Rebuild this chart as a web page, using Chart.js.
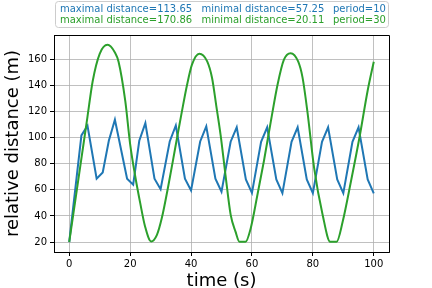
<!DOCTYPE html>
<html>
<head>
<meta charset="utf-8">
<script src="https://cdn.jsdelivr.net/npm/chart.js@4/dist/chart.umd.min.js"></script>
<style>
  html, body { margin: 0; padding: 0; background: #fff; }
  #wrap { width: 432px; height: 288px; }
</style>
</head>
<body>
<div id="wrap"><canvas id="myChart" width="432" height="288"></canvas></div>
<script>
// period 10 run (blue)
const blueTime = [0, 4, 6, 9, 11, 13, 15, 19, 21, 23, 25, 28, 30, 33, 35, 38, 40, 43, 45, 48, 50,
                  53, 55, 58, 60, 63, 65, 68, 70, 73, 75, 78, 80, 83, 85, 88, 90, 93, 95, 98, 100];
const blueDist = [20, 101.6, 109, 68.5, 73.3, 97.5, 113.65, 68.5, 64, 97.5, 111, 68.5, 60.5, 97, 109.2, 68.5, 59.5, 97, 108.5, 68.5, 58.5,
                  96.8, 107.8, 68, 57.7, 96.7, 107.8, 68, 57.5, 96.7, 107.8, 68, 57.5, 96.7, 107.8, 68, 57.5, 96.7, 107.8, 68, 57.25];

// period 30 run (green)
const greenTime = [0, 2, 4, 6, 7.7, 10, 12.6, 15, 16.2, 18.4, 20, 21.7, 23.3, 24.9, 26.9, 28.8, 30.4, 32.6, 34.8, 37,
                   38.7, 40.3, 42.7, 45.3, 46.9, 48.3, 49.7, 51.3, 53, 54.6, 55.9, 57.9, 59.6, 61.8, 63.9, 66.2, 68.4,
                   70.5, 72.7, 75.2, 76.6, 78.2, 80.4, 83.2, 85.7, 87.8, 89.8, 92.5, 95.3, 98, 100];
const greenDist = [20.11, 52, 84, 116, 143, 164, 170.86, 165, 158, 128, 95, 70, 50, 32, 20.5, 25.6, 38.4, 63.9, 92, 120,
                   140.4, 155.7, 164.1, 158.2, 145.5, 124, 102, 71.5, 41, 28, 20.3, 20.3, 30.7, 56.2, 81.7, 112.3, 140.4,
                   159.5, 164.5, 158, 146, 120, 77, 41, 20.3, 20.3, 35.8, 66.4, 100, 136, 158];

const maxDist = [113.65, 170.86];
const minDist = [57.25, 20.11];
const periods = [10, 30];
const seriesColors = ['#1f77b4', '#2ca02c'];

const xTicks = [0, 20, 40, 60, 80, 100];
const yTicks = [20, 40, 60, 80, 100, 120, 140, 160];

const FONT = "'DejaVu Sans', sans-serif";

const ctx = document.getElementById('myChart').getContext('2d');

function pairs(xs, ys) {
  return xs.map((x, i) => ({x: x, y: ys[i]}));
}

// text box at the top + top/right spines
const boxPlugin = {
  id: 'boxPlugin',
  afterDraw(chart) {
    const c = chart.ctx;
    const a = chart.chartArea;
    c.save();
    c.strokeStyle = '#000';
    c.lineWidth = 1;
    c.beginPath();
    c.moveTo(a.left, a.top + 0.5);
    c.lineTo(a.right + 0.5, a.top + 0.5);
    c.lineTo(a.right + 0.5, a.bottom);
    c.stroke();

    c.fillStyle = 'rgba(255,255,255,0.8)';
    c.strokeStyle = '#cccccc';
    c.beginPath();
    c.roundRect(55.5, 1.5, 333, 26, 3);
    c.fill();
    c.stroke();

    c.font = '10px ' + FONT;
    c.textBaseline = 'alphabetic';
    for (let i = 0; i < periods.length; i++) {
      const y = 11.5 + i * 11.6;
      c.fillStyle = seriesColors[i];
      c.fillText('maximal distance=' + maxDist[i].toFixed(2), 60, y);
      c.fillText('minimal distance=' + minDist[i].toFixed(2), 201.5, y);
      c.fillText('period=' + periods[i], 333, y);
    }
    c.restore();
  }
};

const scales = {
  x: {
    type: 'linear',
    min: -5,
    max: 105,
    afterBuildTicks: (s) => { s.ticks = xTicks.map(v => ({value: v})); },
    afterFit: (s) => { s.height = 36; },
    ticks: { color: '#000', font: {size: 10, family: FONT}, padding: 2, maxRotation: 0 },
    grid: { color: '#b0b0b0', lineWidth: 0.8, tickColor: '#000', tickLength: 4, tickWidth: 1 },
    border: { display: true, color: '#000', width: 1 },
    title: { display: true, text: 'time (s)', color: '#000', font: {size: 18, family: FONT}, padding: {top: 0, bottom: -4} }
  },
  y: {
    type: 'linear',
    min: 12.46,
    max: 178.4,
    afterBuildTicks: (s) => { s.ticks = yTicks.map(v => ({value: v})); },
    afterFit: (s) => { s.width = 54; },
    ticks: { color: '#000', font: {size: 10, family: FONT}, padding: 3 },
    grid: { color: '#b0b0b0', lineWidth: 0.8, tickColor: '#000', tickLength: 4, tickWidth: 1 },
    border: { display: true, color: '#000', width: 1 },
    title: { display: true, text: 'relative distance (m)', color: '#000', font: {size: 18, family: FONT}, padding: {top: 3, bottom: 0} }
  }
};

const chart = new Chart(ctx, {
  type: 'line',
  data: {
    datasets: [
      {
        label: 'period=' + periods[1],
        data: pairs(greenTime, greenDist),
        borderColor: seriesColors[1],
        borderWidth: 2,
        fill: false,
        cubicInterpolationMode: 'monotone',
        pointRadius: 0
      },
      {
        label: 'period=' + periods[0],
        data: pairs(blueTime, blueDist),
        borderColor: seriesColors[0],
        borderWidth: 2,
        fill: false,
        tension: 0,
        pointRadius: 0
      }
    ]
  },
  options: {
    responsive: false,
    animation: false,
    layout: { padding: {left: 0, right: 43, top: 35, bottom: 0} },
    scales: scales,
    plugins: {
      legend: { display: false },
      tooltip: { enabled: false }
    }
  },
  plugins: [boxPlugin]
});
</script>
</body>
</html>
